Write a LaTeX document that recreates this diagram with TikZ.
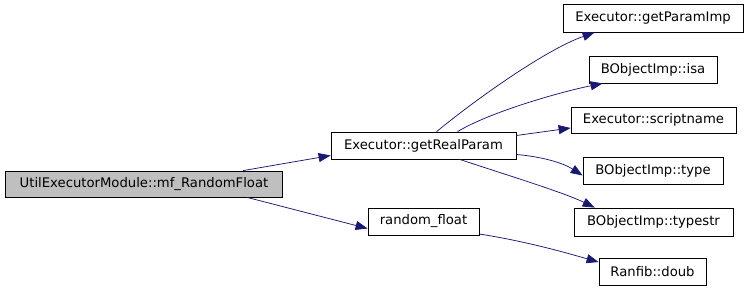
\documentclass[tikz,border=0pt]{standalone}
\usepackage{fontspec}
\setmainfont{DejaVu Sans}
\usetikzlibrary{arrows.meta}
\definecolor{edgeblue}{RGB}{25,25,112}
\definecolor{callgray}{RGB}{191,191,191}

\begin{document}
\begin{tikzpicture}[
  x=1pt, y=-1pt,
  box/.style={rectangle, draw=black, line width=0.8pt, fill=white, inner sep=0pt, font=\fontsize{13.2}{16}\selectfont},
  arrow/.style={-{Triangle[length=12pt,width=9pt]}, edgeblue, line width=0.75pt},
]
\useasboundingbox (0,0) rectangle (749,291);

% === caller ===
\node[box, fill=callgray, minimum width=277pt, minimum height=26pt] (main) at (144,184) {UtilExecutorModule::mf\_RandomFloat};

% === first level ===
\node[box, minimum width=185pt, minimum height=27pt] (grp) at (423.5,145.5) {Executor::getRealParam};
\node[box, minimum width=111pt, minimum height=27pt] (rnd) at (423.5,221.5) {random\_float};

% === second level ===
\node[box, minimum width=180pt, minimum height=28pt] (gpi) at (653,18) {Executor::getParamImp};
\node[box, minimum width=128pt, minimum height=27pt] (isa) at (653,69.5) {BObjectImp::isa};
\node[box, minimum width=165pt, minimum height=26pt] (scr) at (653.5,120) {Executor::scriptname};
\node[box, minimum width=140pt, minimum height=27pt] (typ) at (653,170.5) {BObjectImp::type};
\node[box, minimum width=159pt, minimum height=28pt] (tstr) at (653.5,222) {BObjectImp::typestr};
\node[box, minimum width=107pt, minimum height=27pt] (doub) at (652.5,271.5) {Ranfib::doub};

% === calls ===
\draw[arrow] ([xshift=238pt]main.north west) -- ([yshift=-10pt]grp.west);
\draw[arrow] ([xshift=242pt]main.south west) -- ([yshift=-7pt]rnd.west);

\draw[arrow] ([xshift=106pt]grp.north west) .. controls (475,100) and (545,50) .. ([xshift=32pt]gpi.south west);
\draw[arrow] ([xshift=127pt]grp.north west) .. controls (490,112) and (560,92) .. ([xshift=14pt]isa.south west);
\draw[arrow] ([yshift=10pt]grp.east) -- ([yshift=-8pt]scr.west);
\draw[arrow] ([yshift=-9pt]grp.east) .. controls (535,156) and (560,161) .. ([yshift=-5pt]typ.west);
\draw[arrow] ([xshift=129pt]grp.south west) .. controls (510,176) and (565,193) .. ([xshift=21pt]tstr.north west);

\draw[arrow] ([yshift=-12.5pt]rnd.east) .. controls (530,242) and (570,254) .. ([yshift=9.5pt]doub.west);
\end{tikzpicture}
\end{document}
